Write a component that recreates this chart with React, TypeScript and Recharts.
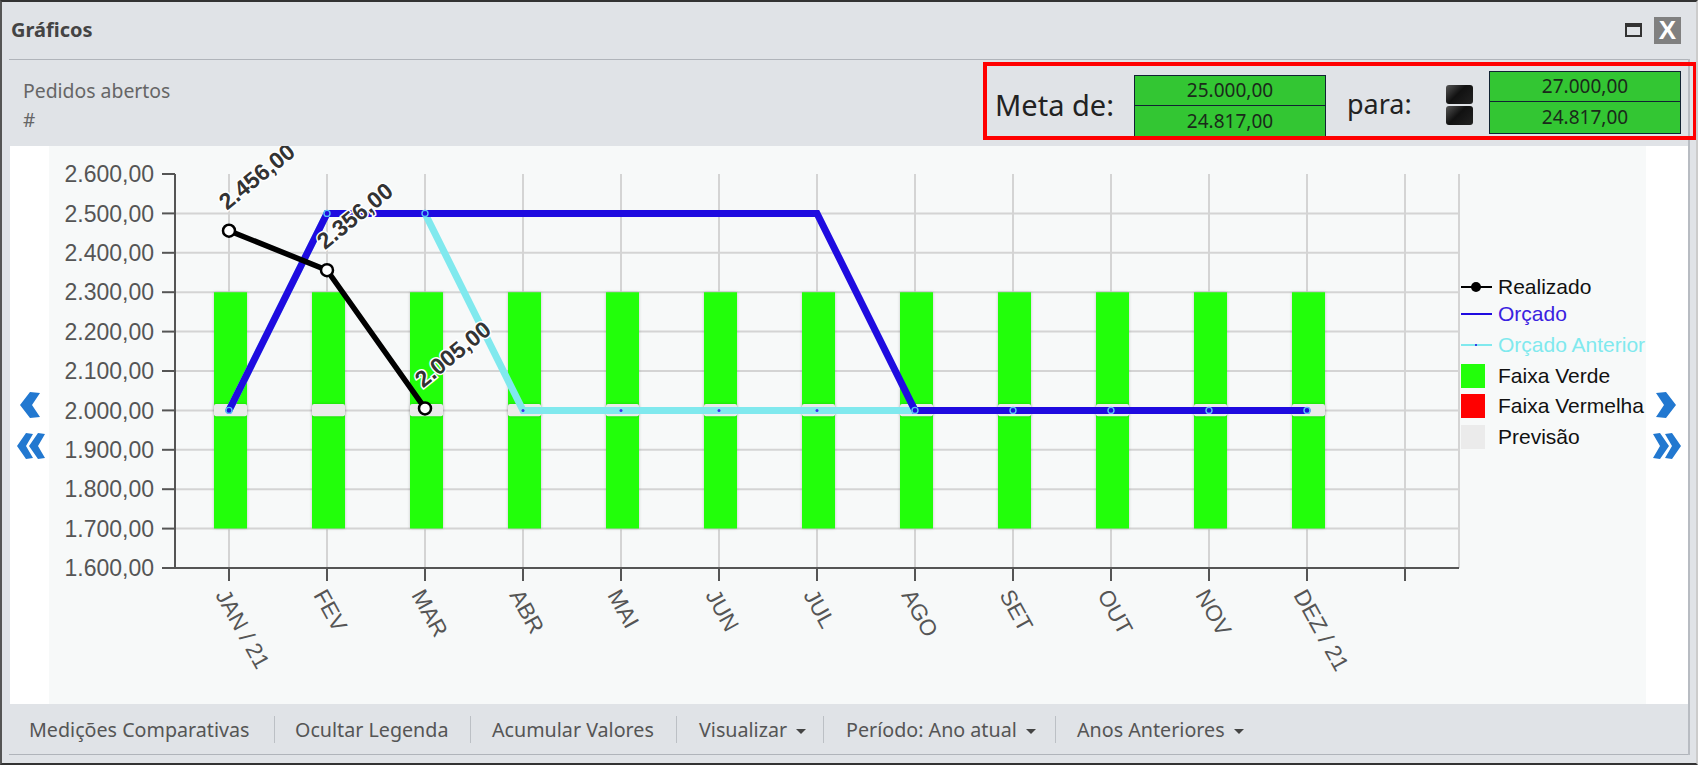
import React from 'react'
import { ComposedChart, Bar, Line, XAxis, YAxis, CartesianGrid, Legend, Rectangle } from 'recharts'

const months = ['JAN / 21', 'FEV', 'MAR', 'ABR', 'MAI', 'JUN', 'JUL', 'AGO', 'SET', 'OUT', 'NOV', 'DEZ / 21', '']
const realizado = [2456, 2356, 2005, null, null, null, null, null, null, null, null, null, null]
const orcado = [2000, 2500, 2500, 2500, 2500, 2500, 2500, 2000, 2000, 2000, 2000, 2000, null]
const orcadoAnterior = [2000, 2500, 2500, 2000, 2000, 2000, 2000, 2000, 2000, 2000, 2000, 2000, null]
const faixaVerdeMin = [1700, 1700, 1700, 1700, 1700, 1700, 1700, 1700, 1700, 1700, 1700, 1700, null]
const faixaVerdeMax = [2300, 2300, 2300, 2300, 2300, 2300, 2300, 2300, 2300, 2300, 2300, 2300, null]
const previsaoMin = [1985, 1985, 1985, 1985, 1985, 1985, 1985, 1985, 1985, 1985, 1985, 1985, null]
const previsaoMax = [2016, 2016, 2016, 2016, 2016, 2016, 2016, 2016, 2016, 2016, 2016, 2016, null]
const yTicks = [1600, 1700, 1800, 1900, 2000, 2100, 2200, 2300, 2400, 2500, 2600]
const gridLines = [1700, 1800, 1900, 2000, 2100, 2200, 2300, 2400, 2500]
const legendNames = ['Realizado', 'Orçado', 'Orçado Anterior', 'Faixa Verde', 'Faixa Vermelha', 'Previsão']
const toolbarItems = ['Medições Comparativas', 'Ocultar Legenda', 'Acumular Valores', 'Visualizar', 'Período: Ano atual', 'Anos Anteriores']
const toolbarLeft = [29, 295, 492, 699, 846, 1077]
const toolbarSeparators = [274, 470, 676, 823, 1055]
const legendTops = [0, 27, 58, 89, 119, 150]

const data = months.map((month, i) => ({
  month,
  realizado: realizado[i],
  orcado: orcado[i],
  anterior: orcadoAnterior[i],
  verde: faixaVerdeMin[i] === null ? null : [faixaVerdeMin[i], faixaVerdeMax[i]],
  vermelha: null,
  previsao: previsaoMin[i] === null ? null : [previsaoMin[i], previsaoMax[i]],
}))

const fmt = (v: number) => v.toLocaleString('pt-BR', { minimumFractionDigits: 2, maximumFractionDigits: 2 })

const BLUE = '#1f0be0'
const CYAN = '#80e9ee'
const GREEN = '#22ff0a'
const SANS = '"Liberation Sans", Arial, sans-serif'
const UI = '"Noto Sans", sans-serif'

function MonthTick({ x, y, payload }: any) {
  const lx = x - 14
  const ly = y + 12
  return (
    <text x={lx} y={ly} transform={`rotate(61 ${lx} ${ly})`} fontFamily={SANS} fontSize={22.5} fill="#555">
      {payload.value}
    </text>
  )
}

function PointLabel({ x, y, value }: any) {
  if (value === null || value === undefined) return null
  const lx = x - 2
  const ly = y - 20
  return (
    <text
      x={lx}
      y={ly}
      transform={`rotate(-39 ${lx} ${ly})`}
      fontFamily={SANS}
      fontSize={23}
      fontWeight="bold"
      fill="#333"
      stroke="#fff"
      strokeWidth={3}
      paintOrder="stroke"
    >
      {fmt(value)}
    </text>
  )
}

function SmallDot({ cx, cy, index }: any) {
  if (cy === null || cy === undefined) return <g key={index} />
  return <circle key={index} cx={cx} cy={cy} r={1.5} fill="#3a30f0" />
}

function SharedDot({ cx, cy, index, payload }: any) {
  // so mostra no Orçado quando coincide com o Anterior
  if (cy === null || cy === undefined || payload.orcado !== payload.anterior) return <g key={index} />
  return <circle key={index} cx={cx} cy={cy} r={3} fill={BLUE} stroke="#58c0f5" strokeWidth={1.4} />
}

function SoftBar(props: any) {
  return <Rectangle {...props} x={props.x + 1} style={{ filter: 'drop-shadow(0 0 1.5px rgba(0,0,0,0.2))' }} />
}

function LegendIcon({ name }: { name: string }) {
  if (name === 'Realizado')
    return (
      <svg width={31} height={14}>
        <line x1={0} x2={31} y1={7} y2={7} stroke="#000" strokeWidth={2} />
        <circle cx={15} cy={7} r={5} fill="#000" />
      </svg>
    )
  if (name === 'Orçado' || name === 'Orçado Anterior')
    return (
      <svg width={31} height={14}>
        <line x1={0} x2={31} y1={7} y2={7} stroke={name === 'Orçado' ? BLUE : CYAN} strokeWidth={2} />
        <circle cx={15} cy={7} r={1} fill={BLUE} />
      </svg>
    )
  const color = name === 'Faixa Verde' ? GREEN : name === 'Faixa Vermelha' ? '#ff0000' : '#ebebeb'
  return <div style={{ width: 24, height: 24, background: color }} />
}

function ChartLegend() {
  return (
    <div style={{ position: 'relative', width: 240, height: 180, fontFamily: SANS, fontSize: 21 }}>
      {legendNames.map((name, i) => (
        <div key={name} style={{ position: 'absolute', top: legendTops[i], left: 0, height: 24, width: 240 }}>
          <div style={{ position: 'absolute', left: 0, top: 0, height: 24, display: 'flex', alignItems: 'center' }}>
            <LegendIcon name={name} />
          </div>
          <span
            style={{
              position: 'absolute',
              left: 37,
              top: 0,
              lineHeight: '24px',
              whiteSpace: 'nowrap',
              color: name === 'Orçado' ? '#3a22e0' : name === 'Orçado Anterior' ? CYAN : '#111',
            }}
          >
            {name}
          </span>
        </div>
      ))}
    </div>
  )
}

function Chevron({ x, y, double, flip }: { x: number; y: number; double?: boolean; flip?: boolean }) {
  const path = double ? 'M1 2 L8 1 L17 14 L8 27 L1 26 L8 14 Z' : 'M1 2 L11 1 L21 14 L11 27 L1 26 L9 14 Z'
  const w = double ? 30 : 22
  return (
    <svg style={{ position: 'absolute', left: x, top: y }} width={w} height={28}>
      <g transform={flip ? `translate(${w} 0) scale(-1 1)` : undefined} fill="#2278d0">
        <path d={path} />
        {double && <path d={path} transform="translate(12 0)" />}
      </g>
    </svg>
  )
}

function GoalBox({ x, y, h, mid, top, bottom }: any) {
  const cell: React.CSSProperties = {
    position: 'absolute',
    left: 0,
    width: '100%',
    textAlign: 'center',
    fontFamily: UI,
    fontSize: 19,
    color: '#1a2a1a',
  }
  return (
    <div
      style={{
        position: 'absolute',
        left: x,
        top: y,
        width: 192,
        height: h,
        background: '#33c633',
        border: '1px solid #123',
        boxSizing: 'border-box',
      }}
    >
      <div style={{ ...cell, top: 0, height: mid, lineHeight: `${mid}px` }}>{top}</div>
      <div style={{ position: 'absolute', left: 0, right: 0, top: mid, height: 1, background: '#123' }} />
      <div style={{ ...cell, top: mid + 1, height: h - mid - 3, lineHeight: `${h - mid - 3}px` }}>{bottom}</div>
    </div>
  )
}

function DarkButton({ y }: { y: number }) {
  return (
    <div
      style={{
        position: 'absolute',
        left: 1446,
        top: y,
        width: 27,
        height: 19,
        borderRadius: 3,
        background: 'linear-gradient(135deg, #555 0%, #111 45%, #222 100%)',
      }}
    />
  )
}

export default function App() {
  return (
    <div
      style={{
        position: 'absolute',
        left: 0,
        top: 0,
        width: 1698,
        height: 765,
        overflow: 'hidden',
        background: '#e0e3e7',
        boxSizing: 'border-box',
        borderTop: '2px solid #333',
        borderLeft: '2px solid #555',
        borderBottom: '2px solid #333',
        borderRight: '2px solid #ccc',
      }}
    >
      <div style={{ position: 'absolute', left: -2, top: -2, width: 1698, height: 765 }}>
        {/* fundo do painel */}
        <div style={{ position: 'absolute', left: 10, top: 146, width: 1678, height: 558, background: '#fff' }} />
        <div style={{ position: 'absolute', left: 49, top: 146, width: 1597, height: 558, background: '#f7f9f9' }} />
        <div style={{ position: 'absolute', left: 1688, top: 59, width: 2, height: 696, background: '#b8bcc2' }} />

        <ComposedChart
          width={1698}
          height={765}
          data={data}
          barSize={33}
          barGap={-33}
          margin={{ top: 174, right: 239, bottom: 97, left: 75 }}
          style={{ position: 'absolute', left: 0, top: 0 }}
        >
          <CartesianGrid stroke="#d4d4d4" strokeWidth={2} horizontalValues={gridLines} />
          <XAxis
            dataKey="month"
            interval={0}
            height={100}
            tickSize={13}
            padding={{ left: 5, right: 5 }}
            tick={<MonthTick />}
            axisLine={{ stroke: '#555', strokeWidth: 2 }}
            tickLine={{ stroke: '#555', strokeWidth: 2 }}
          />
          <YAxis
            width={100}
            domain={[1600, 2600]}
            ticks={yTicks}
            interval={0}
            tickSize={13}
            tickMargin={8}
            tickFormatter={fmt}
            tick={{ fontFamily: SANS, fontSize: 23, fill: '#555' }}
            axisLine={{ stroke: '#555', strokeWidth: 2 }}
            tickLine={{ stroke: '#555', strokeWidth: 2 }}
          />
          <Bar dataKey="verde" name="Faixa Verde" fill={GREEN} shape={<SoftBar />} isAnimationActive={false} />
          <Bar dataKey="vermelha" name="Faixa Vermelha" fill="#ff0000" isAnimationActive={false} />
          <Bar dataKey="previsao" name="Previsão" fill="#ebebeb" shape={<SoftBar radius={2} />} isAnimationActive={false} />
          <Line
            dataKey="anterior"
            name="Orçado Anterior"
            stroke={CYAN}
            strokeWidth={7}
            strokeLinejoin="miter"
            dot={<SmallDot />}
            activeDot={false}
            isAnimationActive={false}
          />
          <Line
            dataKey="orcado"
            name="Orçado"
            stroke={BLUE}
            strokeWidth={7}
            strokeLinejoin="miter"
            strokeLinecap="round"
            dot={<SharedDot />}
            activeDot={false}
            isAnimationActive={false}
          />
          <Line
            dataKey="realizado"
            name="Realizado"
            stroke="#000"
            strokeWidth={5.5}
            dot={{ r: 6, fill: '#fff', stroke: '#000', strokeWidth: 2.5 }}
            activeDot={false}
            label={<PointLabel />}
            isAnimationActive={false}
          />
          <Legend
            layout="vertical"
            align="center"
            verticalAlign="middle"
            content={<ChartLegend />}
            wrapperStyle={{ position: 'absolute', left: 1461, top: 275, width: 240 }}
          />
        </ComposedChart>

        {/* setas */}
        <Chevron x={19} y={391} flip />
        <Chevron x={16} y={432} double flip />
        <Chevron x={1655} y={391} />
        <Chevron x={1652} y={432} double />

        {/* titulo e cabecalho ficam por cima do grafico */}
        <div style={{ position: 'absolute', left: 2, top: 2, width: 1690, height: 57, background: '#e0e3e7' }} />
        <div
          style={{
            position: 'absolute',
            left: 11,
            top: 16,
            fontFamily: UI,
            fontWeight: 700,
            fontSize: 20,
            color: '#444',
          }}
        >
          Gráficos
        </div>
        <svg style={{ position: 'absolute', left: 1624, top: 20 }} width={20} height={20}>
          <rect x={2} y={4} width={15} height={12} fill="none" stroke="#333" strokeWidth={2} />
          <rect x={2} y={4} width={15} height={3} fill="#333" />
        </svg>
        <div
          style={{
            position: 'absolute',
            left: 1654,
            top: 17,
            width: 27,
            height: 27,
            background: '#808080',
            color: '#fff',
            fontFamily: SANS,
            fontWeight: 700,
            fontSize: 26,
            lineHeight: '27px',
            textAlign: 'center',
          }}
        >
          X
        </div>

        <div
          style={{
            position: 'absolute',
            left: 9,
            top: 59,
            width: 1679,
            height: 87,
            background: '#e0e3e7',
            borderTop: '1px solid #b0b4ba',
            boxSizing: 'border-box',
          }}
        />
        <div style={{ position: 'absolute', left: 23, top: 77, fontFamily: UI, fontSize: 19.4, color: '#666' }}>
          Pedidos abertos
        </div>
        <div style={{ position: 'absolute', left: 23, top: 107, fontFamily: UI, fontSize: 19, color: '#666' }}>#</div>

        <div style={{ position: 'absolute', left: 995, top: 85, fontFamily: UI, fontSize: 29, color: '#222' }}>
          Meta de:
        </div>
        <div style={{ position: 'absolute', left: 1347, top: 85, fontFamily: UI, fontSize: 27, color: '#222' }}>
          para:
        </div>
        <GoalBox x={1134} y={75} h={63} mid={29} top="25.000,00" bottom="24.817,00" />
        <DarkButton y={85} />
        <DarkButton y={106} />
        <GoalBox x={1489} y={71} h={63} mid={29} top="27.000,00" bottom="24.817,00" />
        <div
          style={{
            position: 'absolute',
            left: 983,
            top: 62,
            width: 714,
            height: 78,
            border: '4px solid #ff0000',
            boxSizing: 'border-box',
          }}
        />

        {/* barra inferior */}
        <div
          style={{
            position: 'absolute',
            left: 9,
            top: 704,
            width: 1679,
            height: 51,
            background: '#e0e3e7',
            borderBottom: '1px solid #b0b4ba',
            boxSizing: 'border-box',
          }}
        >
          {toolbarSeparators.map((x) => (
            <div
              key={x}
              style={{ position: 'absolute', left: x - 9, top: 12, width: 1, height: 27, background: '#bcc0c5' }}
            />
          ))}
          {toolbarItems.map((item, i) => (
            <div
              key={item}
              style={{
                position: 'absolute',
                left: toolbarLeft[i] - 9,
                top: 1,
                lineHeight: '50px',
                whiteSpace: 'nowrap',
                fontFamily: UI,
                fontSize: 19.7,
                color: '#555',
              }}
            >
              {item}
              {i >= 3 && (
                <span
                  style={{
                    display: 'inline-block',
                    marginLeft: 9,
                    verticalAlign: 3,
                    borderLeft: '5px solid transparent',
                    borderRight: '5px solid transparent',
                    borderTop: '5px solid #444',
                  }}
                />
              )}
            </div>
          ))}
        </div>
      </div>
    </div>
  )
}
